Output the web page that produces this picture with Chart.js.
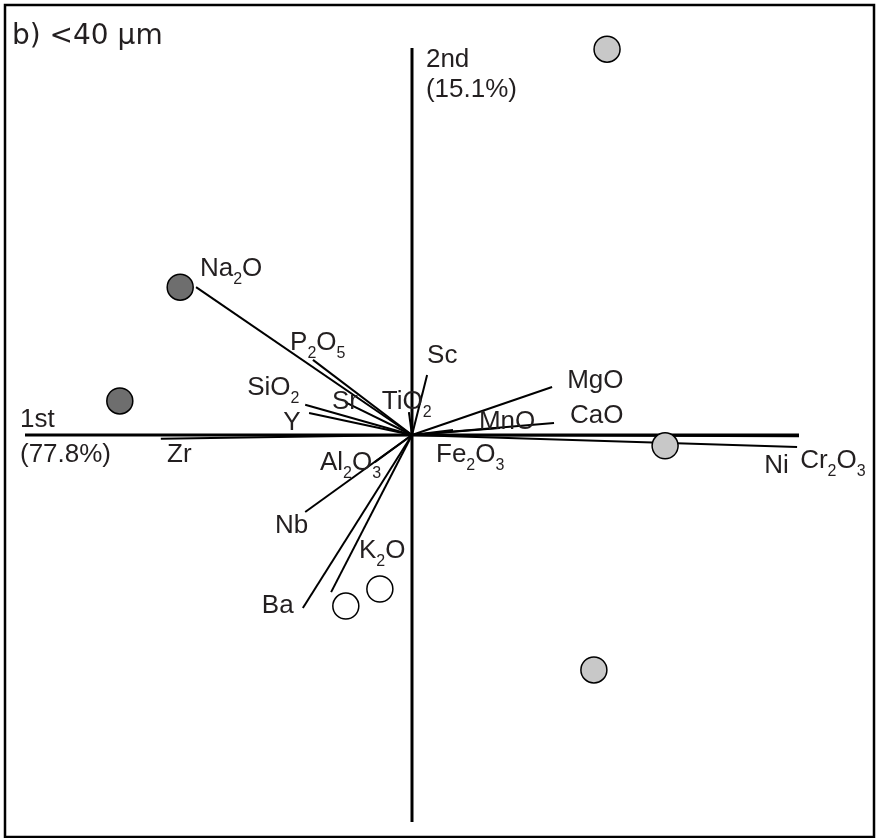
<!DOCTYPE html>
<html>
<head>
<meta charset="utf-8">
<script src="https://cdn.jsdelivr.net/npm/chart.js"></script>
<style>
  html, body { margin: 0; padding: 0; background: #fff; }
  #wrap { width: 876px; height: 838px; position: relative; }
</style>
</head>
<body>
<div id="wrap"><canvas id="biplot"></canvas></div>
<script>
// PCA biplot, <40 um fraction. Loadings and scores in axis units (axis = +/-1)
const variables = ['Na_2O', 'P_2O_5', 'SiO_2', 'Y', 'Sr', 'Zr', 'TiO_2', 'Sc', 'MgO', 'CaO',
                   'MnO', 'Fe_2O_3', 'Cr_2O_3', 'Ni', 'Al_2O_3', 'Nb', 'Ba', 'K_2O'];
const loadX = [-0.558, -0.256, -0.276, -0.266, -0.173, -0.649, -0.008, 0.039, 0.362, 0.367,
               0.227, 0.106, 1.000, 0.995, -0.096, -0.276, -0.282, -0.209];
const loadY = [0.382, 0.194, 0.078, 0.057, 0.085, -0.010, 0.059, 0.155, 0.124, 0.031,
               0.018, 0.013, -0.003, -0.031, -0.070, -0.199, -0.447, -0.406];

// sample scores, three groups
const darkX = [-0.599, -0.755];
const darkY = [0.382, 0.088];
const lightX = [0.504, 0.654, 0.470];
const lightY = [0.997, -0.028, -0.607];
const whiteX = [-0.171, -0.083];
const whiteY = [-0.442, -0.398];

const axisNames = ['1st', '2nd'];
const axisShare = ['(77.8%)', '(15.1%)'];
const panelTitle = 'b) <40 μm';

// label anchors (left / baseline), in the same units
const labelAt = {
  'Na_2O': [-0.548, 0.411], 'P_2O_5': [-0.315, 0.220], 'SiO_2': [-0.426, 0.103],
  'Y': [-0.333, 0.013], 'Sr': [-0.207, 0.067], 'TiO_2': [-0.078, 0.067],
  'Zr': [-0.633, -0.070], 'Sc': [0.039, 0.186], 'MgO': [0.401, 0.121],
  'CaO': [0.408, 0.031], 'MnO': [0.173, 0.016], 'Fe_2O_3': [0.062, -0.070],
  'Ni': [0.910, -0.098], 'Cr_2O_3': [1.003, -0.085], 'Al_2O_3': [-0.238, -0.090],
  'Nb': [-0.354, -0.253], 'K_2O': [-0.137, -0.318], 'Ba': [-0.388, -0.460]
};

const toPts = (xs, ys) => xs.map((x, i) => ({ x: x, y: ys[i] }));
const FONT = '"Liberation Sans", Arial, Helvetica, sans-serif';
const INK = '#231f20';
const SIZE = 26;

const pointSet = (xs, ys, fill) => ({
  data: toPts(xs, ys),
  backgroundColor: fill,
  borderColor: '#000',
  borderWidth: 1.5,
  pointRadius: 13,
  showLine: false,
  order: 0
});

const vectorSets = variables.map((v, i) => ({
  data: [{ x: 0, y: 0 }, { x: loadX[i], y: loadY[i] }],
  showLine: true,
  borderColor: '#000',
  borderWidth: 2,
  pointRadius: 0,
  order: 2
}));

const axisSets = [
  { data: [{ x: -1, y: 0 }, { x: 1, y: 0 }] },
  { data: [{ x: 0, y: -1 }, { x: 0, y: 1 }] }
].map(d => Object.assign(d, { showLine: true, borderColor: '#000', borderWidth: 3, pointRadius: 0, order: 3 }));

// draw text with _n subscripts
function drawChem(ctx, text, x, y, size) {
  let cx = x;
  text.split(/(_\d)/).forEach(p => {
    if (!p) return;
    if (p[0] === '_') {
      ctx.font = Math.round(size * 0.62) + 'px ' + FONT;
      ctx.fillText(p.slice(1), cx, y + size * 0.3);
      cx += ctx.measureText(p.slice(1)).width;
    } else {
      ctx.font = size + 'px ' + FONT;
      ctx.fillText(p, cx, y);
      cx += ctx.measureText(p).width;
    }
  });
}

const labelPlugin = {
  id: 'biplotLabels',
  beforeDraw(chart) {
    const { ctx } = chart;
    ctx.save();
    ctx.fillStyle = '#fff';
    ctx.fillRect(0, 0, chart.width, chart.height);
    ctx.restore();
  },
  afterDraw(chart) {
    const { ctx, chartArea: a, scales: { x, y } } = chart;
    ctx.save();
    ctx.strokeStyle = '#000';
    ctx.lineWidth = 2.5;
    ctx.strokeRect(a.left, a.top, a.right - a.left, a.bottom - a.top);

    ctx.fillStyle = INK;
    ctx.textBaseline = 'alphabetic';
    ctx.textAlign = 'left';
    variables.forEach(v => {
      const p = labelAt[v];
      drawChem(ctx, v, x.getPixelForValue(p[0]), y.getPixelForValue(p[1]), SIZE);
    });

    ctx.font = SIZE + 'px ' + FONT;
    ctx.fillText(axisNames[0], x.getPixelForValue(-1.013), y.getPixelForValue(0.021));
    ctx.fillText(axisShare[0], x.getPixelForValue(-1.013), y.getPixelForValue(-0.070));
    ctx.fillText(axisNames[1], x.getPixelForValue(0.036), y.getPixelForValue(0.951));
    ctx.fillText(axisShare[1], x.getPixelForValue(0.036), y.getPixelForValue(0.873));

    ctx.font = '28px "DejaVu Sans", Verdana, sans-serif';
    ctx.fillText(panelTitle, a.left + 7, a.top + 39);
    ctx.restore();
  }
};

new Chart(document.getElementById('biplot'), {
  type: 'scatter',
  data: {
    datasets: [
      pointSet(darkX, darkY, '#6e6e6e'),
      pointSet(lightX, lightY, '#c8c8c8'),
      pointSet(whiteX, whiteY, '#ffffff'),
      ...vectorSets,
      ...axisSets
    ]
  },
  options: {
    responsive: true,
    maintainAspectRatio: false,
    animation: false,
    layout: { autoPadding: false, padding: { left: 5, top: 5, right: 2, bottom: 1 } },
    scales: {
      x: { type: 'linear', min: -1.05168, max: 1.19380, display: false },
      y: { type: 'linear', min: -1.03876, max: 1.11111, display: false }
    },
    plugins: { legend: { display: false }, tooltip: { enabled: false } }
  },
  plugins: [labelPlugin]
});
</script>
</body>
</html>
